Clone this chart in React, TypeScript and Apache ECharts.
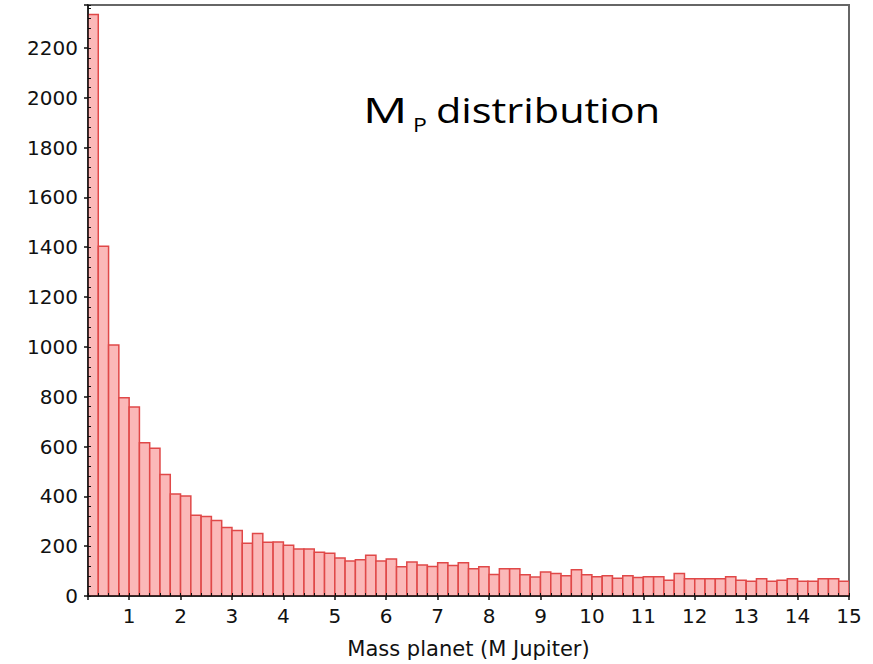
import React, { useEffect, useRef } from 'react';
import * as echarts from 'echarts';

// Histogram bin edges (Jupiter masses)
const binEdges = [
  0.2, 0.4, 0.6, 0.8, 1.0, 1.2, 1.4, 1.6, 1.8, 2.0,
  2.2, 2.4, 2.6, 2.8, 3.0, 3.2, 3.4, 3.6, 3.8, 4.0,
  4.2, 4.4, 4.6, 4.8, 5.0, 5.2, 5.4, 5.6, 5.8, 6.0,
  6.2, 6.4, 6.6, 6.8, 7.0, 7.2, 7.4, 7.6, 7.8, 8.0,
  8.2, 8.4, 8.6, 8.8, 9.0, 9.2, 9.4, 9.6, 9.8, 10.0,
  10.2, 10.4, 10.6, 10.8, 11.0, 11.2, 11.4, 11.6, 11.8, 12.0,
  12.2, 12.4, 12.6, 12.8, 13.0, 13.2, 13.4, 13.6, 13.8, 14.0,
  14.2, 14.4, 14.6, 14.8, 15.0,
];

// Counts per bin
const counts = [
  2334, 1404, 1007, 796, 759, 615, 593, 488, 409, 401,
  324, 319, 303, 275, 263, 212, 251, 216, 217, 204,
  189, 189, 176, 172, 153, 140, 145, 164, 140, 149,
  117, 136, 124, 118, 133, 122, 133, 109, 117, 86,
  109, 109, 85, 76, 96, 90, 81, 105, 85, 77,
  81, 71, 81, 74, 77, 77, 63, 90, 69, 69,
  69, 69, 77, 63, 59, 69, 59, 63, 69, 59,
  59, 69, 69, 59,
];

const xMin = 0.2;
const xMax = 15;
const yMin = 0;
const yMax = 2372;
const yMajorStep = 200;
const yMinorStep = 40;
const xMajorStep = 1;
const xMinorStep = 0.2;

const xAxisTitle = 'Mass planet (M Jupiter)';
const titleMain = 'M';
const titleSub = 'P';
const titleRest = 'distribution';

export default function App() {
  const ref = useRef<HTMLDivElement>(null);

  useEffect(() => {
    if (!ref.current) return;
    const chart = echarts.init(ref.current, null, { renderer: 'svg' });
    const data = counts.map((c, i) => [binEdges[i], binEdges[i + 1], c]);
    const axisColor = '#111';
    const labelFont = 'DejaVu Sans';

    chart.setOption({
      animation: false,
      backgroundColor: '#ffffff',
      grid: [
        {
          left: 88, right: 24, top: 5, bottom: 68,
          show: true, borderColor: '#666', borderWidth: 2,
          backgroundColor: 'transparent',
        },
        { left: 88, right: 24, top: 5, bottom: 68, show: false },
      ],
      xAxis: [
        {
          type: 'value', gridIndex: 0, min: xMin, max: xMax,
          minInterval: xMajorStep, maxInterval: xMajorStep, splitNumber: 15,
          z: 10,
          axisLine: { show: true, onZero: false, lineStyle: { color: axisColor, width: 1.5 } },
          axisTick: { show: true, length: 4, lineStyle: { color: axisColor, width: 1.5 } },
          axisLabel: {
            color: axisColor, fontFamily: labelFont, fontSize: 20, margin: 10,
            formatter: (v: number) => (Math.abs(v - Math.round(v)) < 1e-6 ? String(Math.round(v)) : ''),
          },
          splitLine: { show: false },
          name: xAxisTitle,
          nameLocation: 'middle',
          nameGap: 42,
          nameTextStyle: { color: axisColor, fontFamily: labelFont, fontSize: 21 },
        },
        {
          type: 'value', gridIndex: 1, min: xMin, max: xMax,
          minInterval: xMinorStep, maxInterval: xMinorStep, splitNumber: 74,
          z: 10,
          axisLine: { show: false },
          axisTick: { show: true, inside: true, length: 3, lineStyle: { color: axisColor, width: 1 } },
          axisLabel: { show: false },
          splitLine: { show: false },
        },
      ],
      yAxis: [
        {
          type: 'value', gridIndex: 0, min: yMin, max: yMax, interval: yMajorStep,
          z: 10,
          axisLine: { show: true, onZero: false, lineStyle: { color: axisColor, width: 1.5 } },
          axisTick: { show: true, length: 4, lineStyle: { color: axisColor, width: 1.5 } },
          axisLabel: {
            color: axisColor, fontFamily: labelFont, fontSize: 20, margin: 10,
            formatter: (v: number) => (v % yMajorStep === 0 ? String(v) : ''),
          },
          splitLine: { show: false },
        },
        {
          type: 'value', gridIndex: 1, min: yMin, max: yMax, interval: yMinorStep,
          z: 10,
          axisLine: { show: false },
          axisTick: { show: true, inside: true, length: 3, lineStyle: { color: axisColor, width: 1 } },
          axisLabel: { show: false },
          splitLine: { show: false },
        },
      ],
      series: [
        {
          type: 'custom',
          xAxisIndex: 0,
          yAxisIndex: 0,
          data,
          encode: { x: [0, 1], y: 2 },
          clip: true,
          renderItem: (params: any, api: any) => {
            const x0 = api.value(0);
            const x1 = api.value(1);
            const c = api.value(2);
            const pTop = api.coord([x0, c]);
            const pBot = api.coord([x1, 0]);
            return {
              type: 'rect',
              shape: { x: pTop[0], y: pTop[1], width: pBot[0] - pTop[0], height: pBot[1] - pTop[1] },
              style: { fill: '#fbb8b8', stroke: '#e04848', lineWidth: 1.5 },
            };
          },
        },
      ],
      graphic: [
        {
          type: 'text', x: 363, y: 110, scaleX: 1.45,
          style: { text: titleMain, fontFamily: 'Open Sans', fontSize: 34, fill: '#000', align: 'left', verticalAlign: 'middle' },
        },
        {
          type: 'text', x: 413, y: 124, scaleX: 1.15,
          style: { text: titleSub, fontFamily: 'Open Sans', fontSize: 20, fill: '#000', align: 'left', verticalAlign: 'middle' },
        },
        {
          type: 'text', x: 436, y: 110, scaleX: 1.22,
          style: { text: titleRest, fontFamily: 'Open Sans', fontSize: 34, fill: '#000', align: 'left', verticalAlign: 'middle' },
        },
      ],
    });

    return () => chart.dispose();
  }, []);

  return (
    <div
      ref={ref}
      style={{ position: 'absolute', left: 0, top: 0, width: 873, height: 664, background: '#fff' }}
    />
  );
}
